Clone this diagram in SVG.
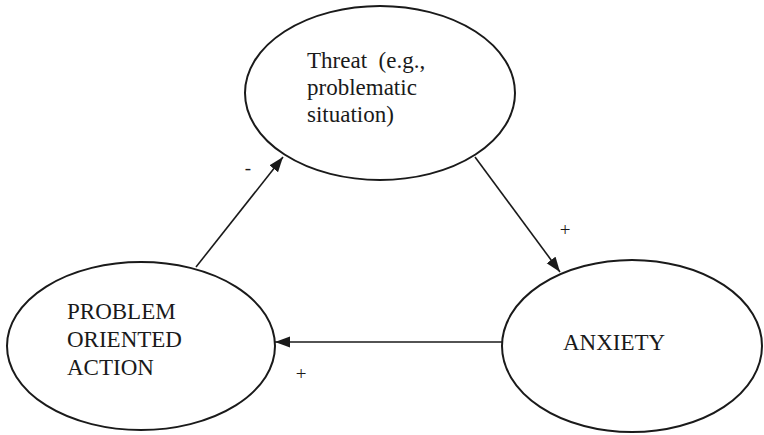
<svg xmlns="http://www.w3.org/2000/svg" width="764" height="435" viewBox="0 0 764 435">
<style>
.node{fill:none;stroke:#1a1a1a;stroke-width:2}
.lbl{font-family:"Liberation Serif","Times New Roman",serif;font-size:23px;fill:#1a1a1a}
.sign{font-family:"Liberation Serif","Times New Roman",serif;font-size:19px;fill:#1a1a1a;text-anchor:middle}
.edge{stroke:#1a1a1a;stroke-width:1.6;fill:none;marker-end:url(#arrow)}
</style>
<defs>
<marker id="arrow" markerUnits="userSpaceOnUse" markerWidth="16" markerHeight="12" refX="15" refY="5.5" orient="auto">
<path d="M0,0 L15,5.5 L0,11 Z" fill="#1a1a1a"/>
</marker>
</defs>
<rect width="764" height="435" fill="#ffffff"/>
<g id="threat">
<ellipse class="node" cx="380" cy="93" rx="135" ry="87"/>
<text class="lbl" x="307" y="68" xml:space="preserve">Threat  (e.g.,</text>
<text class="lbl" x="307" y="95">problematic</text>
<text class="lbl" x="307" y="122">situation)</text>
</g>
<g id="action">
<ellipse class="node" cx="141" cy="346" rx="134" ry="84"/>
<text class="lbl" x="67" y="319">PROBLEM</text>
<text class="lbl" x="67" y="347">ORIENTED</text>
<text class="lbl" x="67" y="375">ACTION</text>
</g>
<g id="anxiety">
<ellipse class="node" cx="632" cy="346" rx="130" ry="86"/>
<text class="lbl" x="563" y="350">ANXIETY</text>
</g>
<g id="connectors">
<line class="edge" x1="196" y1="267" x2="283" y2="157"/>
<line class="edge" x1="475" y1="157" x2="560" y2="272"/>
<line class="edge" x1="502" y1="342" x2="275" y2="342"/>
<text class="sign" x="248" y="174">-</text>
<text class="sign" x="565" y="236">+</text>
<text class="sign" x="301" y="380">+</text>
</g>
</svg>
